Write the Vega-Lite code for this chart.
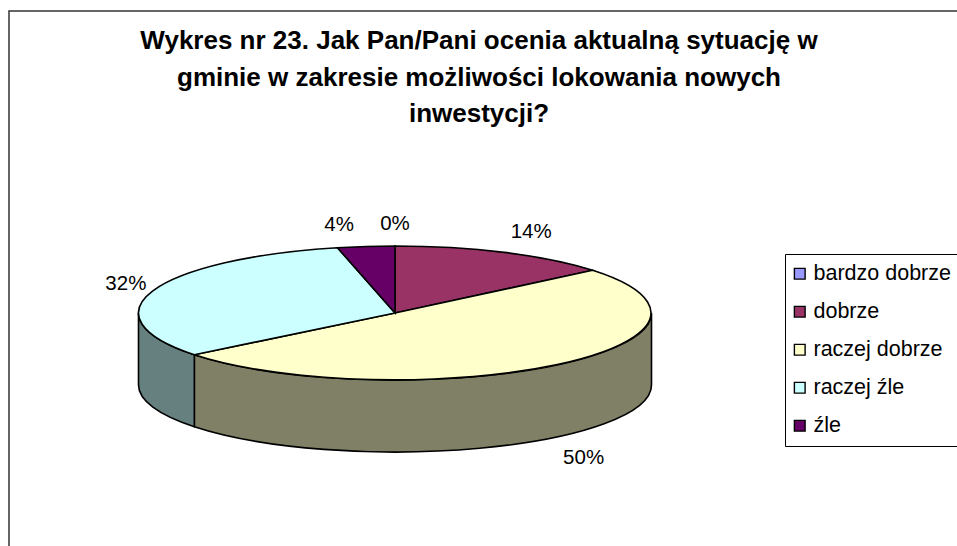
{
  "$schema": "https://vega.github.io/schema/vega-lite/v6.json",
  "width": 960,
  "height": 545,
  "autosize": "none",
  "padding": {"left": 9, "top": 11, "right": 0, "bottom": 0},
  "background": "white",
  "config": {"view": {"stroke": "#333333", "strokeWidth": 1.5}, "font": "Liberation Sans"},
  "title": {
    "text": ["Wykres nr 23. Jak Pan/Pani ocenia aktualną sytuację w", "gminie w zakresie możliwości lokowania nowych", "inwestycji?"],
    "font": "Liberation Sans", "fontSize": 26, "fontWeight": "bold", "color": "black",
    "anchor": "middle", "frame": "group", "dx": -10, "offset": -116, "lineHeight": 36.5
  },
  "data": {"values": [
    {"kategoria": "bardzo dobrze", "procent": 0},
    {"kategoria": "dobrze", "procent": 14},
    {"kategoria": "raczej dobrze", "procent": 50.3},
    {"kategoria": "raczej źle", "procent": 32.1},
    {"kategoria": "źle", "procent": 3.6}
  ]},
  "transform": [
    {"window": [{"op": "sum", "field": "procent", "as": "cum"}], "frame": [null, 0]},
    {"calculate": "(datum.cum - datum.procent) * 3.6 * PI / 180", "as": "a1"},
    {"calculate": "datum.cum * 3.6 * PI / 180", "as": "a2"},
    {"calculate": "round(25650*sin(datum.a1))/100", "as": "x1"},
    {"calculate": "round(-6700*cos(datum.a1))/100", "as": "y1"},
    {"calculate": "round(25650*sin(datum.a2))/100", "as": "x2"},
    {"calculate": "round(-6700*cos(datum.a2))/100", "as": "y2"},
    {"calculate": "'M0,0L' + datum.x1 + ',' + datum.y1 + 'A256.5,67 0 ' + (datum.a2-datum.a1>PI?1:0) + ' 1 ' + datum.x2 + ',' + datum.y2 + 'Z'", "as": "topPath"},
    {"calculate": "(datum.a1+datum.a2)/2", "as": "mid"},
    {"calculate": "256.5*sin(datum.mid) + (sin(datum.mid)>0.001?27:(sin(datum.mid)<-0.001?-27:0))", "as": "labelX"},
    {"calculate": "89*cos(datum.mid) - (cos(datum.mid)<0?76:0)", "as": "labelY"},
    {"calculate": "round(datum.procent) + '%'", "as": "label"}
  ],
  "layer": [
    {
      "transform": [
        {"calculate": "clamp(datum.a1,PI/2,3*PI/2)", "as": "w1"},
        {"calculate": "clamp(datum.a2,PI/2,3*PI/2)", "as": "w2"},
        {"filter": "datum.w2 > datum.w1"},
        {"calculate": "round(25650*sin(datum.w1))/100", "as": "wx1"},
        {"calculate": "round(-6700*cos(datum.w1))/100", "as": "wy1"},
        {"calculate": "round(25650*sin(datum.w2))/100", "as": "wx2"},
        {"calculate": "round(-6700*cos(datum.w2))/100", "as": "wy2"},
        {"calculate": "'M' + datum.wx1 + ',' + datum.wy1 + 'A256.5,67 0 0 1 ' + datum.wx2 + ',' + datum.wy2 + 'L' + datum.wx2 + ',' + (datum.wy2+72) + 'A256.5,67 0 0 0 ' + datum.wx1 + ',' + (datum.wy1+72) + 'Z'", "as": "wallPath"}
      ],
      "mark": {"type": "point", "filled": true, "opacity": 1, "stroke": "black", "strokeWidth": 1.6, "size": 4},
      "encoding": {
        "x": {"datum": 0, "type": "quantitative", "axis": null, "scale": {"domain": [-386, 574], "nice": false, "zero": false}},
        "y": {"datum": 0, "type": "quantitative", "axis": null, "scale": {"domain": [-243, 302], "nice": false, "zero": false}},
        "shape": {"field": "wallPath", "type": "nominal", "scale": null, "legend": null},
        "fill": {"field": "kategoria", "type": "nominal", "legend": null, "scale": {"domain": ["raczej dobrze", "raczej źle"], "range": ["#808066", "#668080"]}}
      }
    },
    {
      "mark": {"type": "point", "filled": true, "opacity": 1, "stroke": "black", "strokeWidth": 1.6, "size": 4},
      "encoding": {
        "x": {"datum": 0, "type": "quantitative", "axis": null, "scale": {"domain": [-386, 574], "nice": false, "zero": false}},
        "y": {"datum": 0, "type": "quantitative", "axis": null, "scale": {"domain": [-243, 302], "nice": false, "zero": false}},
        "shape": {"field": "topPath", "type": "nominal", "scale": null, "legend": null},
        "color": {
          "field": "kategoria", "type": "nominal", "sort": null,
          "scale": {"domain": ["bardzo dobrze", "dobrze", "raczej dobrze", "raczej źle", "źle"], "range": ["#9999FF", "#993366", "#FFFFCC", "#CCFFFF", "#660066"]},
          "legend": {
            "title": null, "orient": "none", "legendX": 776, "legendY": 243,
            "symbolType": "square", "symbolSize": 115, "symbolStrokeColor": "black", "symbolStrokeWidth": 1.4, "symbolOpacity": 1, "symbolOffset": -5,
            "labelFont": "Liberation Sans", "labelFontSize": 21.5, "labelColor": "black", "labelLimit": 300, "labelOffset": 3,
            "rowPadding": 15, "padding": 9, "strokeColor": "black", "fillColor": "white", "offset": 0
          }
        }
      }
    },
    {
      "mark": {"type": "text", "font": "Liberation Sans", "fontSize": 20.5, "color": "black"},
      "encoding": {
        "x": {"field": "labelX", "type": "quantitative", "axis": null, "scale": {"domain": [-386, 574], "nice": false, "zero": false}},
        "y": {"field": "labelY", "type": "quantitative", "axis": null, "scale": {"domain": [-243, 302], "nice": false, "zero": false}},
        "text": {"field": "label", "type": "nominal"}
      }
    }
  ]
}
